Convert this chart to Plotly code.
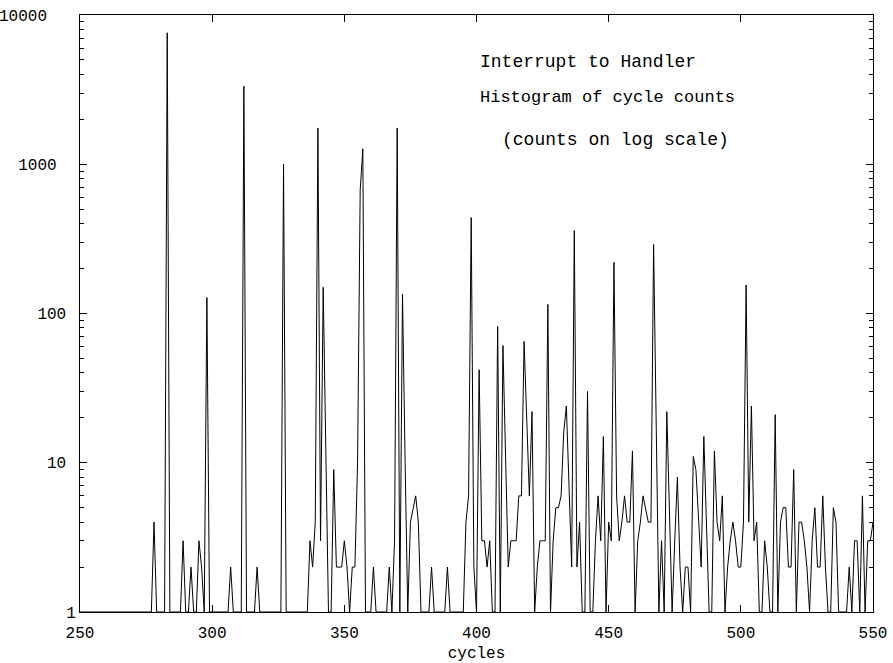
import plotly.graph_objects as go

cycles = list(range(250, 551))

counts = [
    1, 1, 1, 1, 1, 1, 1, 1, 1, 1,          # 250-259
    1, 1, 1, 1, 1, 1, 1, 1, 1, 1,          # 260-269
    1, 1, 1, 1, 1, 1, 1, 1, 4, 1,          # 270-279
    1, 1, 1, 7600, 1, 1, 1, 1, 1, 3,       # 280-289
    1, 1, 2, 1, 1, 3, 2, 1, 128, 1,        # 290-299
    1, 1, 1, 1, 1, 1, 1, 2, 1, 1,          # 300-309
    1, 1, 3330, 1, 1, 1, 1, 2, 1, 1,       # 310-319
    1, 1, 1, 1, 1, 1, 1, 1000, 1, 1,       # 320-329
    1, 1, 1, 1, 1, 1, 1, 3, 2, 4,          # 330-339
    1750, 3, 150, 12, 1, 1, 9, 2, 2, 2,    # 340-349
    3, 2, 1, 2, 2, 10, 670, 1270, 1, 1,    # 350-359
    1, 2, 1, 1, 1, 1, 1, 2, 1, 3,          # 360-369
    1750, 1, 135, 10, 1, 4, 5, 6, 4, 1,    # 370-379
    1, 1, 1, 2, 1, 1, 1, 1, 1, 2,          # 380-389
    1, 1, 1, 1, 1, 1, 4, 6, 440, 2,        # 390-399
    1, 42, 3, 3, 2, 3, 1, 1, 82, 1,        # 400-409
    61, 11, 2, 3, 3, 3, 6, 6, 65, 20,      # 410-419
    6, 22, 1, 2, 3, 3, 3, 115, 1, 3,       # 420-429
    5, 5, 6, 16, 24, 7, 2, 360, 2, 4,      # 430-439
    1, 1, 30, 1, 1, 3, 6, 3, 15, 1,        # 440-449
    4, 3, 220, 6, 3, 4, 6, 4, 4, 12,       # 450-459
    1, 3, 4, 6, 5, 4, 4, 290, 17, 1,       # 460-469
    3, 1, 22, 4, 1, 3, 8, 2, 1, 2,         # 470-479
    2, 1, 11, 9, 4, 2, 15, 4, 1, 1,        # 480-489
    12, 4, 3, 6, 1, 2, 3, 4, 3, 2,         # 490-499
    2, 4, 155, 4, 24, 3, 4, 1, 1, 3,       # 500-509
    2, 1, 1, 21, 1, 4, 5, 5, 2, 2,         # 510-519
    9, 1, 4, 4, 3, 2, 1, 3, 5, 2,          # 520-529
    2, 6, 2, 1, 1, 5, 4, 1, 1, 1,          # 530-539
    1, 2, 1, 3, 3, 1, 6, 1, 3, 3,          # 540-549
    4,                                     # 550
]

x_ticks = [250, 300, 350, 400, 450, 500, 550]
y_ticks = [1, 10, 100, 1000, 10000]
NB = "\u00a0"
y_tick_text = ["1", "10" + NB, "100" + NB, "1000" + NB * 2, "10000" + NB * 3]

notes = ["Interrupt to Handler", "Histogram of cycle counts", "(counts on log scale)"]
x_title = "cycles" + NB * 4

FONT = "Liberation Mono, Courier New, monospace"

fig = go.Figure()
fig.add_trace(go.Scatter(
    x=cycles, y=counts, mode="lines",
    line=dict(color="black", width=1),
    showlegend=False,
))

fig.update_layout(
    width=893, height=663,
    margin=dict(l=80, r=20, t=15, b=51),
    paper_bgcolor="white", plot_bgcolor="white",
    font=dict(family=FONT, size=16, color="black"),
)

fig.update_xaxes(
    range=[250, 550], automargin=False,
    tickvals=x_ticks,
    ticks="inside", ticklen=7, tickcolor="black",
    showline=True, linecolor="black", linewidth=1, mirror="allticks",
    showgrid=False, zeroline=False,
    ticklabelstandoff=6,
    title=dict(text=x_title, standoff=4, font=dict(size=16)),
    tickfont=dict(size=16),
)
fig.update_yaxes(
    type="log", range=[0, 4], automargin=False,
    tickvals=y_ticks, ticktext=y_tick_text,
    ticks="inside", ticklen=7, tickcolor="black",
    minor=dict(ticks="inside", ticklen=4, tickcolor="black", dtick="D1", showgrid=False),
    showline=True, linecolor="black", linewidth=1, mirror="allticks",
    showgrid=False, zeroline=False,
    tickfont=dict(size=16),
)

fig.add_annotation(text=notes[0], xref="paper", yref="paper", x=0.502, y=0.921,
                   xanchor="left", yanchor="middle", showarrow=False, font=dict(size=18))
fig.add_annotation(text=notes[1], xref="paper", yref="paper", x=0.502, y=0.861,
                   xanchor="left", yanchor="middle", showarrow=False, font=dict(size=17))
fig.add_annotation(text=notes[2], xref="paper", yref="paper", x=0.530, y=0.790,
                   xanchor="left", yanchor="middle", showarrow=False, font=dict(size=18))

fig.write_html("out.html")
